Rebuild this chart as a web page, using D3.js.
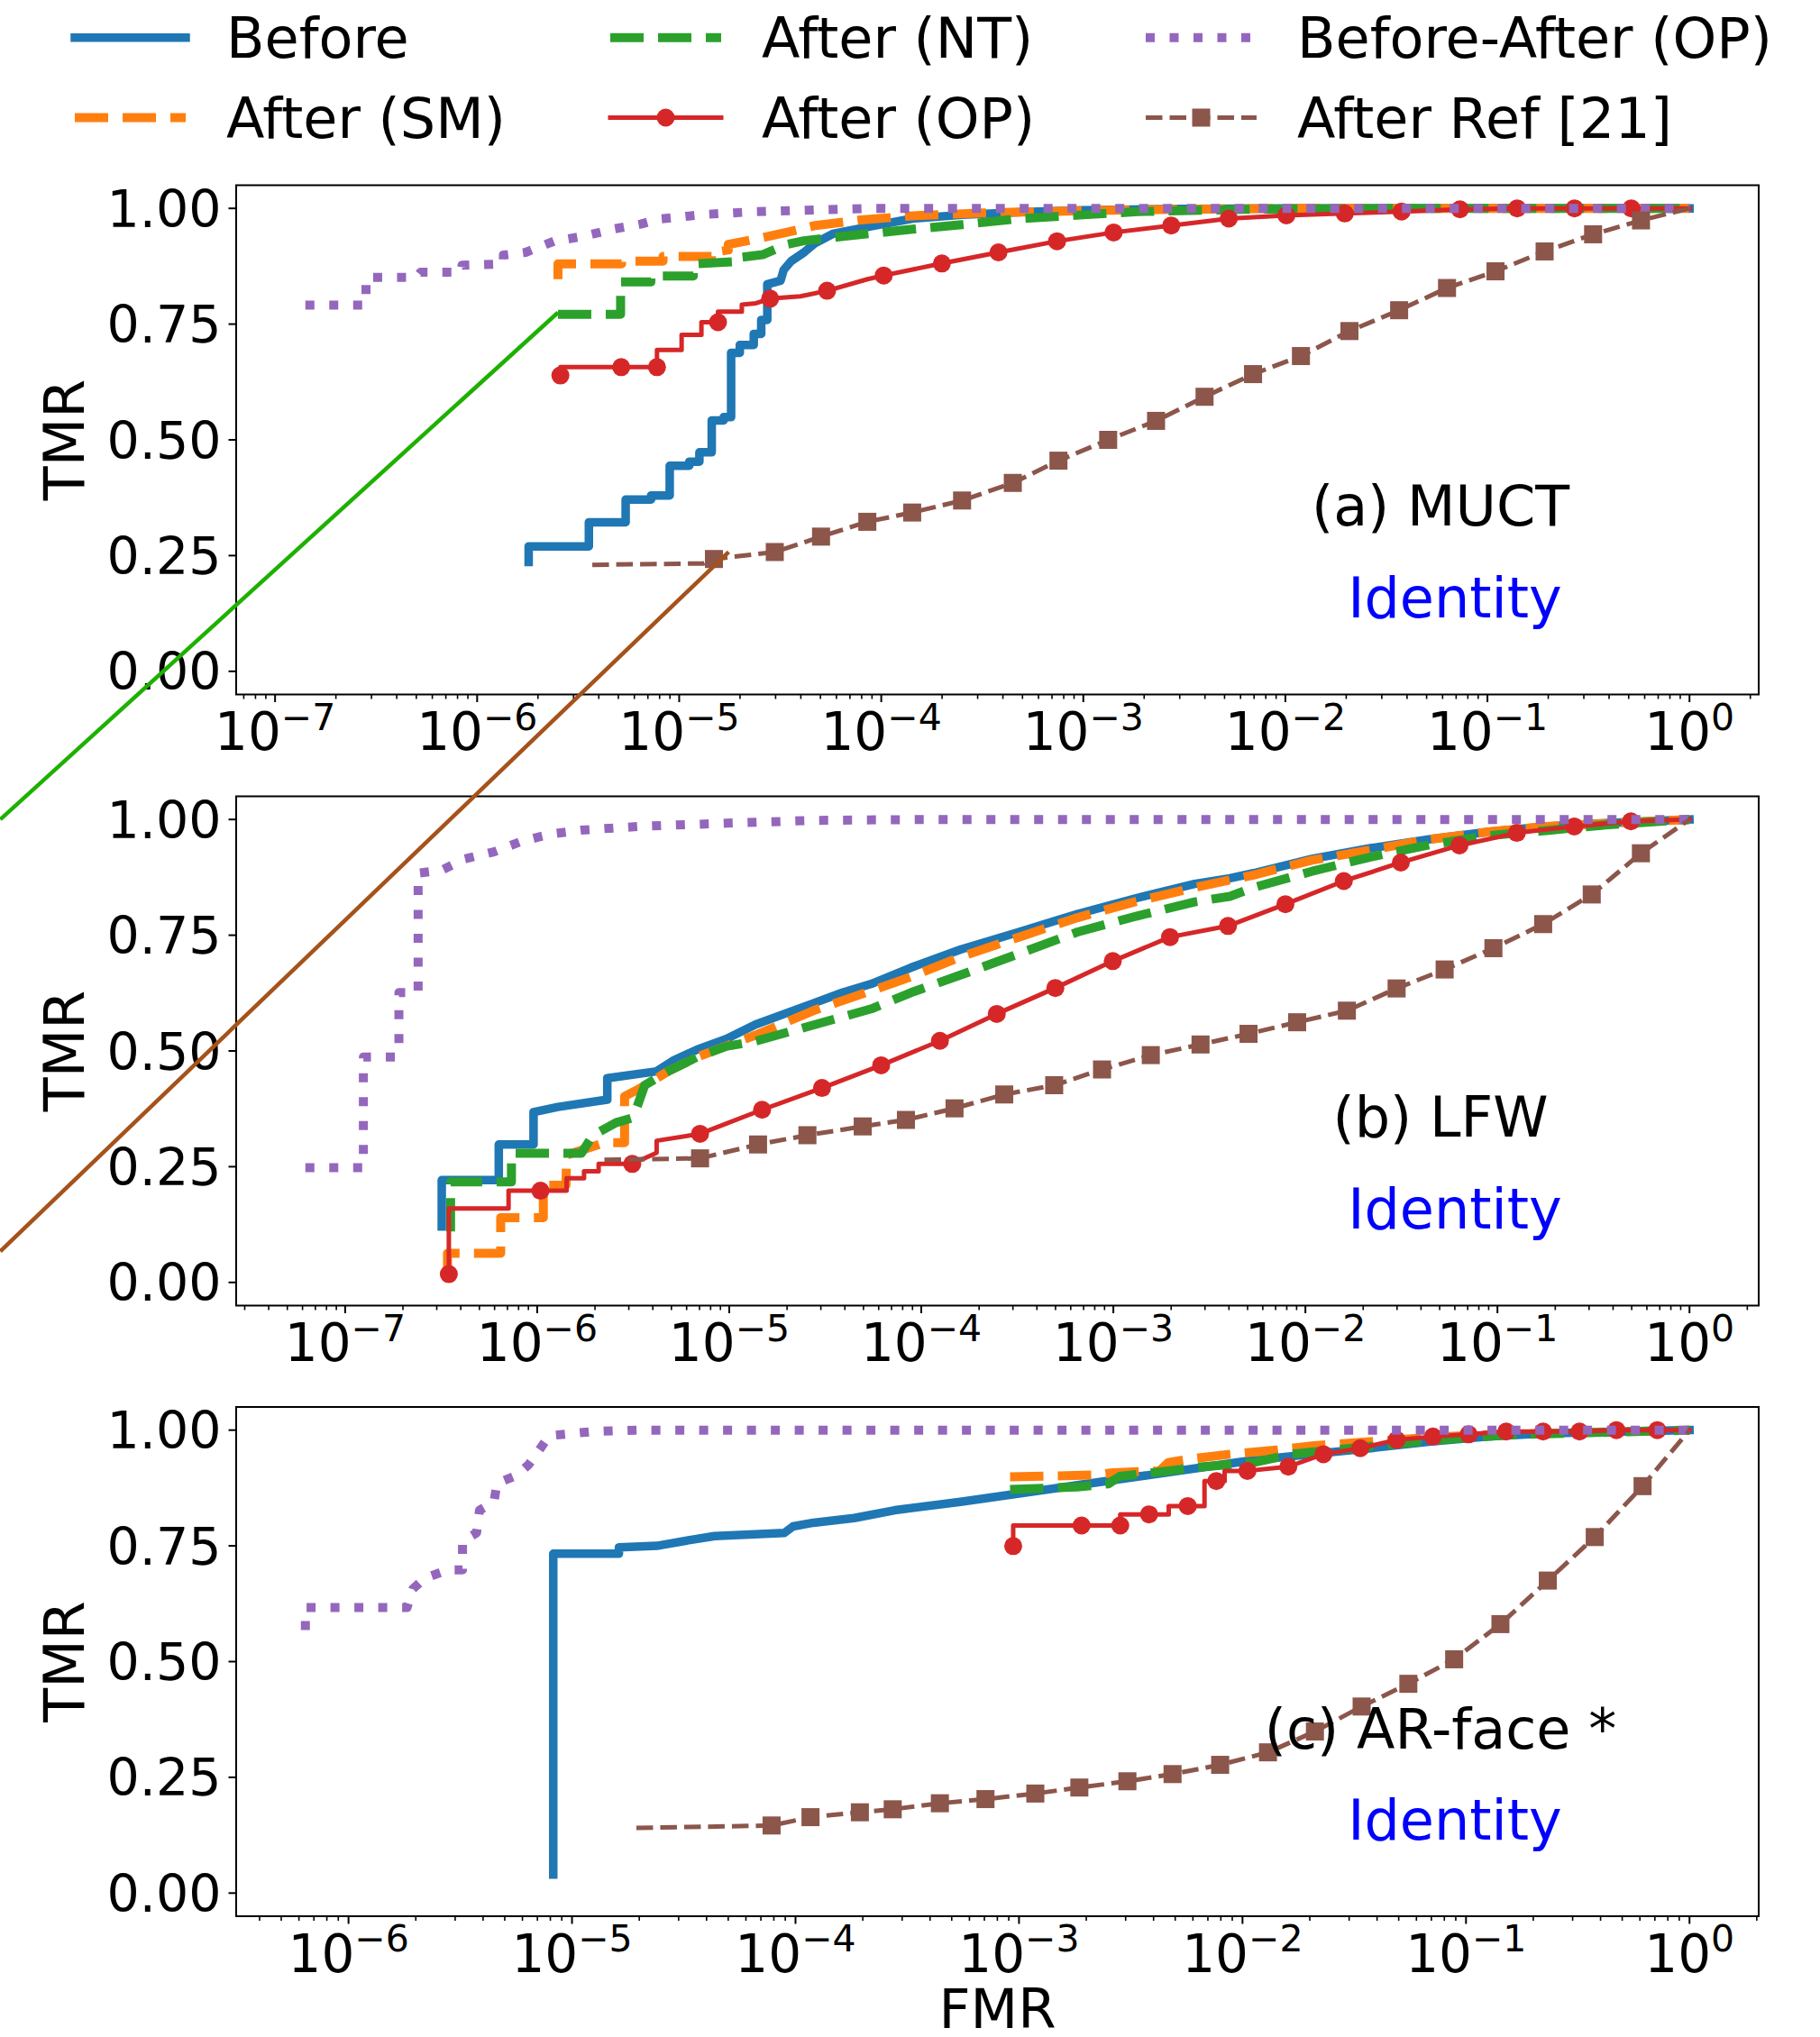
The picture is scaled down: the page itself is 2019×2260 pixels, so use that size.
<!DOCTYPE html>
<html>
<head>
<meta charset="utf-8">
<script src="https://cdn.jsdelivr.net/npm/d3@7/dist/d3.min.js"></script>
<style>
body { margin: 0; background: #fff; }
svg { display: block; font-family: "DejaVu Sans", sans-serif; }
</style>
</head>
<body>
<svg id="chart" width="2019" height="2260"></svg>
<script>
// every point is [log10(FMR), TMR, marker]; a third value of 1 puts a marker there

//(a) MUCT
var blueA = [[-5.745,0.236],[-5.745,0.270],[-5.447,0.270],[-5.447,0.322],[-5.265,0.322],[-5.265,0.371],[-5.139,0.371],[-5.139,0.380],[-5.047,0.380],[-5.047,0.444],[-4.95,0.444],[-4.95,0.453],[-4.90,0.453],[-4.90,0.473],[-4.839,0.473],[-4.839,0.542],[-4.78,0.542],[-4.78,0.549],[-4.743,0.549],[-4.743,0.688],[-4.70,0.688],[-4.70,0.705],[-4.631,0.705],[-4.631,0.729],[-4.594,0.729],[-4.594,0.759],[-4.564,0.759],[-4.564,0.836],[-4.498,0.844],[-4.483,0.867],[-4.446,0.886],[-4.379,0.906],[-4.327,0.925],[-4.24,0.945],[-4.04,0.962],[-3.845,0.978],[-3.6,0.986],[-3.3,0.992],[-3.0,0.996],[-2.5,0.999],[-2,1],[0,1]];
var orangeA = [[-5.60,0.847],[-5.60,0.880],[-5.285,0.880],[-5.285,0.886],[-5.08,0.886],[-5.08,0.896],[-4.84,0.896],[-4.84,0.905],[-4.757,0.910],[-4.757,0.922],[-4.585,0.937],[-4.47,0.948],[-4.327,0.963],[-4.1,0.975],[-3.845,0.984],[-3.5,0.99],[-3.0,0.995],[-2.5,0.998],[-2.0,1],[0,1]];
var greenA = [[-5.60,0.771],[-5.29,0.771],[-5.29,0.841],[-5.14,0.841],[-5.14,0.854],[-4.93,0.854],[-4.93,0.880],[-4.72,0.885],[-4.72,0.893],[-4.587,0.900],[-4.47,0.922],[-4.383,0.930],[-4.18,0.940],[-3.845,0.955],[-3.6,0.965],[-3.31,0.978],[-3.0,0.986],[-2.73,0.993],[-2.2,0.998],[-1.5,1],[0,1]];
var redA = [[-5.588,0.639,1],[-5.588,0.657],[-5.287,0.657,1],[-5.11,0.657,1],[-5.11,0.694],[-4.988,0.694],[-4.988,0.727],[-4.89,0.727],[-4.89,0.754],[-4.808,0.754,1],[-4.808,0.777],[-4.69,0.777],[-4.69,0.792],[-4.62,0.795],[-4.55,0.805,1],[-4.40,0.810],[-4.268,0.822,1],[-4.068,0.847],[-3.988,0.855,1],[-3.70,0.881,1],[-3.42,0.905,1],[-3.13,0.929,1],[-2.85,0.948,1],[-2.565,0.963,1],[-2.28,0.978,1],[-1.995,0.985,1],[-1.706,0.989,1],[-1.425,0.993,1],[-1.136,0.998,1],[-0.853,1,1],[-0.569,1,1],[-0.288,1,1],[0,1]];
var purpleA = [[-6.85,0.791],[-6.55,0.791],[-6.55,0.851],[-6.30,0.851],[-6.28,0.862],[-6.08,0.862],[-6.075,0.877],[-5.87,0.88],[-5.87,0.899],[-5.76,0.905],[-5.62,0.929],[-5.47,0.940],[-5.33,0.955],[-5.19,0.966],[-5.10,0.977],[-4.87,0.987],[-4.62,0.993],[-4.38,0.996],[-4.04,1],[0,1]];
var brownA = [[-5.43,0.230],[-4.88,0.233],[-4.828,0.2426,1],[-4.527,0.2577,1],[-4.298,0.291,1],[-4.069,0.323,1],[-3.847,0.343,1],[-3.60,0.369,1],[-3.349,0.407,1],[-3.123,0.455,1],[-2.877,0.50,1],[-2.64,0.541,1],[-2.40,0.593,1],[-2.16,0.642,1],[-1.923,0.681,1],[-1.683,0.735,1],[-1.437,0.78,1],[-1.20,0.828,1],[-0.96,0.864,1],[-0.717,0.907,1],[-0.477,0.944,1],[-0.24,0.974,1],[0,1]];

//(b) LFW
var blueB = [[-6.497,0.121],[-6.497,0.221],[-6.20,0.221],[-6.20,0.298],[-6.019,0.298],[-6.019,0.368],[-5.892,0.379],[-5.635,0.395],[-5.635,0.441],[-5.378,0.456],[-5.288,0.48],[-5.167,0.503],[-5.016,0.526],[-4.864,0.557],[-4.713,0.58],[-4.562,0.603],[-4.411,0.626],[-4.26,0.645],[-4.054,0.68],[-3.796,0.719],[-3.491,0.757],[-3.186,0.796],[-2.881,0.83],[-2.576,0.861],[-2.393,0.873],[-2.27,0.884],[-1.966,0.915],[-1.661,0.938],[-1.356,0.957],[-1.051,0.973],[-0.746,0.985],[-0.44,0.992],[0,1]];
var orangeB = [[-6.467,0.017],[-6.467,0.063],[-6.19,0.063],[-6.19,0.14],[-5.968,0.14],[-5.968,0.21],[-5.85,0.21],[-5.847,0.275],[-5.65,0.302],[-5.545,0.302],[-5.545,0.402],[-5.47,0.418],[-5.378,0.441],[-5.318,0.456],[-5.167,0.487],[-4.864,0.534],[-4.562,0.587],[-4.26,0.63],[-4.054,0.66],[-3.796,0.703],[-3.491,0.746],[-3.186,0.788],[-2.881,0.823],[-2.576,0.853],[-2.27,0.88],[-1.966,0.912],[-1.661,0.934],[-1.356,0.957],[-1.051,0.973],[-0.746,0.985],[0,1]];
var greenB = [[-6.451,0.11],[-6.451,0.217],[-6.134,0.217],[-6.134,0.279],[-5.77,0.279],[-5.71,0.318],[-5.59,0.345],[-5.50,0.356],[-5.44,0.426],[-5.318,0.456],[-5.167,0.487],[-5.016,0.51],[-4.864,0.521],[-4.562,0.556],[-4.26,0.591],[-4.054,0.626],[-3.796,0.664],[-3.491,0.710],[-3.186,0.757],[-2.881,0.791],[-2.576,0.822],[-2.393,0.834],[-2.27,0.853],[-1.966,0.888],[-1.661,0.919],[-1.356,0.945],[-1.051,0.965],[-0.746,0.976],[-0.44,0.988],[0,1]];
var redB = [[-6.46,0.018,1],[-6.46,0.16],[-6.149,0.16],[-6.149,0.198],[-5.983,0.198,1],[-5.847,0.198],[-5.847,0.225],[-5.756,0.225],[-5.756,0.24],[-5.68,0.24],[-5.68,0.256],[-5.505,0.256,1],[-5.378,0.28],[-5.378,0.306],[-5.152,0.321,1],[-4.829,0.373,1],[-4.517,0.42,1],[-4.209,0.469,1],[-3.903,0.522,1],[-3.607,0.58,1],[-3.302,0.636,1],[-3.003,0.694,1],[-2.705,0.746,1],[-2.403,0.77,1],[-2.104,0.817,1],[-1.80,0.867,1],[-1.503,0.907,1],[-1.198,0.944,1],[-0.899,0.971,1],[-0.60,0.985,1],[-0.305,0.996,1],[0,1]];
var purpleB = [[-7.207,0.248],[-6.905,0.248],[-6.905,0.487],[-6.739,0.487],[-6.72,0.51],[-6.72,0.626],[-6.62,0.626],[-6.62,0.884],[-6.50,0.89],[-6.376,0.915],[-6.225,0.93],[-6.074,0.954],[-5.922,0.969],[-5.77,0.977],[-5.47,0.985],[-5.016,0.992],[-4.56,0.998],[-4.0,1],[0,1]];
var brownB = [[-5.65,0.265],[-5.152,0.268,1],[-4.85,0.298,1],[-4.593,0.318,1],[-4.305,0.337,1],[-4.08,0.351,1],[-3.827,0.376,1],[-3.568,0.406,1],[-3.308,0.426,1],[-3.059,0.46,1],[-2.805,0.491,1],[-2.546,0.514,1],[-2.296,0.537,1],[-2.043,0.562,1],[-1.784,0.587,1],[-1.525,0.635,1],[-1.275,0.676,1],[-1.021,0.722,1],[-0.762,0.774,1],[-0.509,0.838,1],[-0.253,0.927,1],[0,1]];

//(c) AR-face
var blueC = [[-5.084,0.04],[-5.084,0.733],[-4.79,0.733],[-4.79,0.747],[-4.621,0.75],[-4.479,0.762],[-4.362,0.771],[-4.05,0.778],[-4.011,0.792],[-3.92,0.80],[-3.738,0.81],[-3.556,0.827],[-3.262,0.845],[-3.0,0.863],[-2.738,0.881],[-2.476,0.899],[-2.214,0.917],[-1.952,0.935],[-1.69,0.948],[-1.427,0.961],[-1.165,0.975],[-0.903,0.986],[-0.64,0.993],[0,1]];
var orangeC = [[-3.04,0.899],[-2.66,0.903],[-2.58,0.908],[-2.371,0.912],[-2.332,0.93],[-2.214,0.939],[-2.056,0.948],[-1.847,0.957],[-1.69,0.966],[-1.427,0.975],[-1.165,0.984],[-0.903,0.99],[0,1]];
var greenC = [[-3.04,0.872],[-2.74,0.877],[-2.60,0.884],[-2.55,0.90],[-2.33,0.912],[-2.2,0.92],[-1.95,0.93],[-1.78,0.948],[-1.6,0.957],[-1.4,0.966],[-1.1,0.98],[-0.8,0.99],[0,1]];
var redC = [[-3.026,0.7495,1],[-3.026,0.794],[-2.72,0.794,1],[-2.547,0.794,1],[-2.547,0.818],[-2.418,0.818,1],[-2.33,0.818],[-2.33,0.836],[-2.245,0.836,1],[-2.17,0.836],[-2.17,0.89],[-2.117,0.89,1],[-2.08,0.89],[-2.08,0.912],[-1.978,0.912,1],[-1.795,0.921,1],[-1.638,0.948,1],[-1.473,0.961,1],[-1.31,0.979,1],[-1.148,0.986,1],[-0.988,0.991,1],[-0.82,0.997,1],[-0.655,0.997,1],[-0.492,0.997,1],[-0.327,1,1],[-0.144,1,1],[0,1]];
var purpleC = [[-6.193,0.568],[-6.193,0.617],[-5.738,0.617],[-5.712,0.657],[-5.66,0.68],[-5.556,0.698],[-5.49,0.698],[-5.49,0.76],[-5.427,0.778],[-5.414,0.827],[-5.349,0.845],[-5.336,0.885],[-5.245,0.903],[-5.193,0.926],[-5.141,0.961],[-5.102,0.988],[-4.907,0.997],[-4.7,1],[0,1]];
var brownC = [[-4.712,0.1406],[-4.107,0.146,1],[-3.933,0.164,1],[-3.712,0.1745,1],[-3.565,0.181,1],[-3.354,0.194,1],[-3.15,0.203,1],[-2.927,0.215,1],[-2.73,0.228,1],[-2.515,0.2415,1],[-2.313,0.257,1],[-2.10,0.277,1],[-1.886,0.304,1],[-1.676,0.349,1],[-1.467,0.403,1],[-1.258,0.452,1],[-1.053,0.505,1],[-0.846,0.581,1],[-0.634,0.675,1],[-0.424,0.769,1],[-0.21,0.879,1],[0,1]];

//Hand-drawn strokes on the figure, in panel (a) coordinates
var greenStroke = [[-8.36,-0.32],[-5.60,0.775]];
var brownStroke = [[-8.36,-1.253],[-4.755,0.258]];

var seriesNames = ["Before","After (SM)","After (NT)","After (OP)","Before-After (OP)","After Ref [21]"];
var panelNames = ["(a) MUCT","(b) LFW","(c) AR-face *"];
var yTicks = [0,0.25,0.5,0.75,1];

var styles = [
    {color:"#1f77b4", width:9.5, dash:null},
    {color:"#ff7f0e", width:10, dash:"37,16"},
    {color:"#2ca02c", width:10, dash:"37,16"},
    {color:"#d62728", width:5, dash:null, marker:"circle"},
    {color:"#9467bd", width:10, dash:"10,16.5"},
    {color:"#8c564b", width:5, dash:"18.5,8", marker:"square"}
];

var panels = [
    {series:[blueA,orangeA,greenA,redA,purpleA,brownA], top:205.5, label:panelNames[0]},
    {series:[blueB,orangeB,greenB,redB,purpleB,brownB], top:883.5, label:panelNames[1]},
    {series:[blueC,orangeC,greenC,redC,purpleC,brownC], top:1561, label:panelNames[2]}
];

var svg = d3.select("#chart");
var left = 262, pw = 1951 - 262, ph = 565;

var y = d3.scaleLinear().domain([-0.05,1.05]).range([ph,0]);
var scalesA;

function drawMarker(g, st, px, py) {
    if (st.marker == "circle") {
        g.append("circle").attr("cx",px).attr("cy",py).attr("r",10).attr("fill",st.color);
    } else if (st.marker == "square") {
        g.append("rect").attr("x",px - 10).attr("y",py - 10).attr("width",20).attr("height",20).attr("fill",st.color);
    }
}

panels.forEach(function(p,i) {
    //matplotlib style 5% margins on the log axis
    var lo = d3.min(p.series,function(s) { return d3.min(s,function(d) { return d[0]; }); });
    var hi = d3.max(p.series,function(s) { return d3.max(s,function(d) { return d[0]; }); });
    var pad = (hi - lo) * 0.05;
    var x = d3.scaleLog().domain([Math.pow(10,lo - pad),Math.pow(10,hi + pad)]).range([0,pw]);
    if (i == 0) scalesA = {x:x, top:p.top};

    var g = svg.append("g").attr("transform","translate(" + left + "," + p.top + ")");

    g.append("clipPath").attr("id","clip" + i)
        .append("rect").attr("width",pw).attr("height",ph);

    var line = d3.line()
        .x(function(d) { return x(Math.pow(10,d[0])); })
        .y(function(d) { return y(d[1]); });

    var plot = g.append("g").attr("clip-path","url(#clip" + i + ")");
    p.series.forEach(function(s,k) {
        var st = styles[k];
        plot.append("path")
            .attr("d",line(s))
            .attr("fill","none")
            .attr("stroke",st.color)
            .attr("stroke-width",st.width)
            .attr("stroke-linejoin","round")
            .attr("stroke-linecap",st.dash ? "butt" : "square")
            .attr("stroke-dasharray",st.dash);
        if (st.marker) {
            s.filter(function(d) { return d[2] == 1; }).forEach(function(d) {
                drawMarker(plot,st,x(Math.pow(10,d[0])),y(d[1]));
            });
        }
    });

    //frame
    g.append("rect").attr("width",pw).attr("height",ph)
        .attr("fill","none").attr("stroke","#000").attr("stroke-width",2);

    //y ticks
    yTicks.forEach(function(t) {
        g.append("line").attr("x1",-8.5).attr("x2",0).attr("y1",y(t)).attr("y2",y(t))
            .attr("stroke","#000").attr("stroke-width",2);
        g.append("text").attr("x",-16.5).attr("y",y(t) + 20.5)
            .attr("text-anchor","end").attr("font-size",57)
            .text(d3.format(".2f")(t));
    });

    //x ticks: decades and minor ticks
    var d0 = Math.log10(x.domain()[0]), d1 = Math.log10(x.domain()[1]);
    for (var k = Math.floor(d0); k <= Math.ceil(d1); k++) {
        for (var m = 1; m <= 9; m++) {
            var v = m * Math.pow(10,k);
            var lv = Math.log10(v);
            if (lv < d0 || lv > d1) continue;
            var px = x(v);
            g.append("line").attr("x1",px).attr("x2",px)
                .attr("y1",ph).attr("y2",ph + (m == 1 ? 8.5 : 5))
                .attr("stroke","#000").attr("stroke-width",m == 1 ? 2 : 1.6);
            if (m == 1) {
                var t = g.append("text").attr("x",px).attr("y",ph + 61.5)
                    .attr("text-anchor","middle").attr("font-size",58);
                t.append("tspan").text("10");
                t.append("tspan").attr("dy",-22.5).attr("font-size",41)
                    .text(k < 0 ? "\u2212" + (-k) : String(k));
            }
        }
    }

    //TMR axis label
    g.append("text")
        .attr("transform","translate(" + (93 - left) + "," + (ph / 2) + ") rotate(-90)")
        .attr("text-anchor","middle").attr("font-size",62)
        .text("TMR");

    //dataset label
    g.append("text").attr("x",1336).attr("y",i == 2 ? 378.7 : 377.5)
        .attr("text-anchor","middle").attr("font-size",62).text(p.label);
    g.append("text").attr("x",1352).attr("y",479.5)
        .attr("text-anchor","middle").attr("font-size",62).attr("fill","#0000ff").text("Identity");
});

//FMR label, sitting right on the bottom edge as in the source figure
svg.append("text").attr("x",left + pw / 2).attr("y",2250)
    .attr("text-anchor","middle").attr("font-size",61).text("FMR");

//Legend, filled column by column like matplotlib
var legend = svg.append("g");
var colX = [83,677,1271], rowY = [41.7,130.5];
seriesNames.forEach(function(name,k) {
    var st = styles[k];
    var cx = colX[Math.floor(k / 2)], cy = rowY[k % 2];
    legend.append("line").attr("x1",cx).attr("x2",cx + 123).attr("y1",cy).attr("y2",cy)
        .attr("stroke",st.color).attr("stroke-width",st.width)
        .attr("stroke-linecap",st.dash ? "butt" : "square")
        .attr("stroke-dasharray",st.dash);
    if (st.marker) drawMarker(legend,st,cx + 61.5,cy);
    legend.append("text").attr("x",cx + 168).attr("y",cy + 22.5)
        .attr("font-size",62).text(name);
});

//Strokes drawn over everything
var ax = scalesA.x;
var strokeLine = d3.line()
    .x(function(d) { return left + ax(Math.pow(10,d[0])); })
    .y(function(d) { return scalesA.top + y(d[1]); });
svg.append("path").attr("d",strokeLine(greenStroke))
    .attr("fill","none").attr("stroke","#1eb000").attr("stroke-width",4.5);
svg.append("path").attr("d",strokeLine(brownStroke))
    .attr("fill","none").attr("stroke","#a5521b").attr("stroke-width",4.5);
</script>
</body>
</html>
